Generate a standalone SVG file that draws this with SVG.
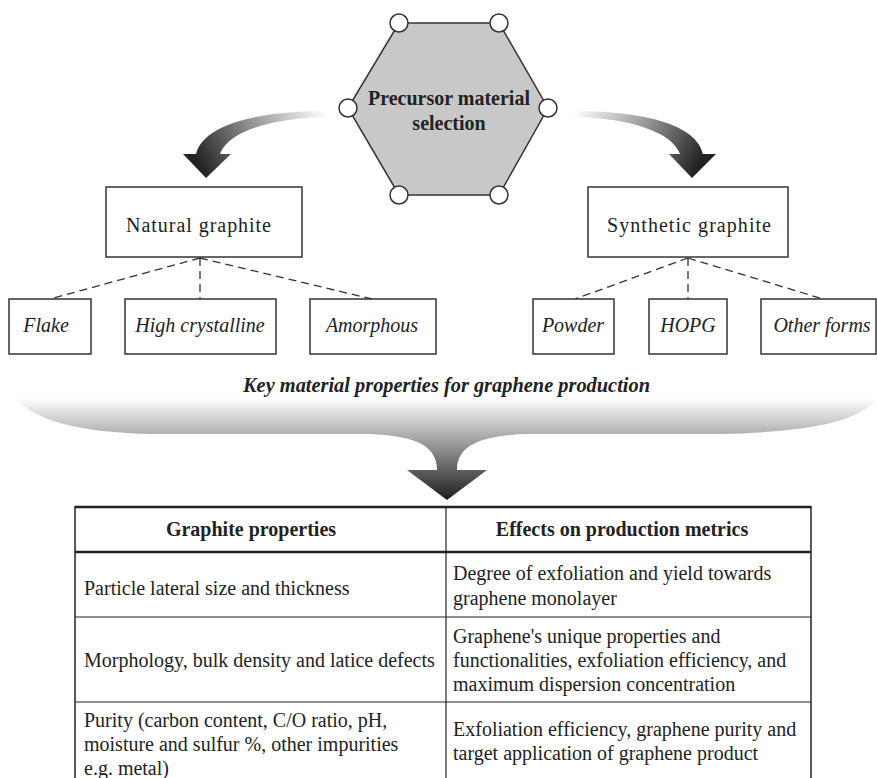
<svg xmlns="http://www.w3.org/2000/svg" width="877" height="778" viewBox="0 0 877 778">
<defs>
<linearGradient id="gL" gradientUnits="userSpaceOnUse" x1="327" y1="114" x2="206" y2="178">
<stop offset="0" stop-color="#ffffff"/><stop offset="0.5" stop-color="#999999"/><stop offset="1" stop-color="#222222"/>
</linearGradient>
<linearGradient id="gR" gradientUnits="userSpaceOnUse" x1="573" y1="114" x2="692" y2="178">
<stop offset="0" stop-color="#ffffff"/><stop offset="0.5" stop-color="#999999"/><stop offset="1" stop-color="#222222"/>
</linearGradient>
<linearGradient id="gB" gradientUnits="userSpaceOnUse" x1="0" y1="398" x2="0" y2="500">
<stop offset="0" stop-color="#ffffff"/><stop offset="0.35" stop-color="#b0b0b0"/><stop offset="1" stop-color="#1e1e1e"/>
</linearGradient>
</defs>
<style>
.box{fill:#fff;stroke:#333;stroke-width:1.5}
.dash{fill:none;stroke:#333;stroke-width:1.3;stroke-dasharray:8 5}
.t{font-family:"Liberation Serif","Times New Roman",serif;font-size:20px;fill:#222}
.it{font-style:italic}
.b{font-weight:bold}
.m{text-anchor:middle}
.port{fill:#fff;stroke:#333;stroke-width:1.5}
.tl{stroke:#222;fill:none}
</style>

<g id="connectors">
<path d="M 327,111 C 270,111 205,120 196,154 L 183,154 L 206,178 L 231,154 L 220,154 C 228,132 270,118 327,117 Z" fill="url(#gL)"/>
<path d="M 573,111 C 630,111 695,120 703,154 L 716,154 L 692,178 L 669,154 L 680,154 C 672,132 630,118 573,117 Z" fill="url(#gR)"/>
<line class="dash" x1="200" y1="258" x2="50" y2="299"/>
<line class="dash" x1="200" y1="258" x2="200" y2="299"/>
<line class="dash" x1="200" y1="258" x2="372" y2="299"/>
<line class="dash" x1="688" y1="258" x2="575" y2="299"/>
<line class="dash" x1="688" y1="258" x2="688" y2="299"/>
<line class="dash" x1="688" y1="258" x2="823" y2="299"/>
<path d="M 15,398 L 877,398 C 862,420 815,432 720,434 L 525,434 C 475,436 457,448 457,470 L 487,470 L 447,500 L 407,470 L 437,470 C 437,448 420,436 370,434 L 150,434 C 75,432 35,420 15,398 Z" fill="url(#gB)"/>
</g>

<g id="precursor">
<polygon points="399,23 499,23 548,108 499,195 399,195 348,108" fill="#c8c8c8" stroke="#333" stroke-width="1.5"/>
<circle class="port" cx="399" cy="23" r="9"/>
<circle class="port" cx="499" cy="23" r="9"/>
<circle class="port" cx="348" cy="108" r="9"/>
<circle class="port" cx="548" cy="108" r="9"/>
<circle class="port" cx="399" cy="195" r="9"/>
<circle class="port" cx="499" cy="195" r="9"/>
<text class="t b m" x="449" y="105">Precursor material</text>
<text class="t b m" x="449" y="130">selection</text>
</g>

<g id="natural">
<rect class="box" x="106" y="187" width="196" height="70"/>
<text class="t" x="126" y="232" textLength="145" lengthAdjust="spacing">Natural graphite</text>
</g>
<g id="synthetic">
<rect class="box" x="588" y="187" width="200" height="70"/>
<text class="t" x="607" y="232" textLength="164" lengthAdjust="spacing">Synthetic graphite</text>
</g>

<g id="flake"><rect class="box" x="9" y="299" width="82" height="55"/><text class="t it m" x="46" y="332">Flake</text></g>
<g id="highcryst"><rect class="box" x="125" y="299" width="151" height="55"/><text class="t it m" x="200" y="332">High crystalline</text></g>
<g id="amorphous"><rect class="box" x="310" y="299" width="126" height="55"/><text class="t it m" x="372" y="332">Amorphous</text></g>
<g id="powder"><rect class="box" x="533" y="299" width="81" height="55"/><text class="t it m" x="573" y="332">Powder</text></g>
<g id="hopg"><rect class="box" x="649" y="299" width="78" height="55"/><text class="t it m" x="688" y="332">HOPG</text></g>
<g id="other"><rect class="box" x="761" y="299" width="115" height="55"/><text class="t it m" x="822" y="332">Other forms</text></g>

<g id="key-label">
<text class="t b it" x="243" y="392" textLength="407" lengthAdjust="spacingAndGlyphs">Key material properties for graphene production</text>
</g>

<g id="table">
<line class="tl" x1="75" y1="507" x2="811" y2="507" stroke-width="2.5"/>
<line class="tl" x1="75" y1="552" x2="811" y2="552" stroke-width="2.5"/>
<line class="tl" x1="75" y1="617" x2="811" y2="617" stroke-width="1.2"/>
<line class="tl" x1="75" y1="702" x2="811" y2="702" stroke-width="1.2"/>
<line class="tl" x1="75" y1="506" x2="75" y2="778" stroke-width="1.5"/>
<line class="tl" x1="446" y1="506" x2="446" y2="778" stroke-width="1.2"/>
<line class="tl" x1="811" y1="506" x2="811" y2="778" stroke-width="1.5"/>
<text class="t b m" x="251" y="536">Graphite properties</text>
<text class="t b m" x="622" y="536">Effects on production metrics</text>
<text class="t" x="84" y="595">Particle lateral size and thickness</text>
<text class="t" x="453" y="580">Degree of exfoliation and yield towards</text>
<text class="t" x="453" y="605">graphene monolayer</text>
<text class="t" x="84" y="667">Morphology, bulk density and latice defects</text>
<text class="t" x="453" y="643">Graphene's unique properties and</text>
<text class="t" x="453" y="667">functionalities, exfoliation efficiency, and</text>
<text class="t" x="453" y="691">maximum dispersion concentration</text>
<text class="t" x="84" y="727">Purity (carbon content, C/O ratio, pH,</text>
<text class="t" x="84" y="751">moisture and sulfur %, other impurities</text>
<text class="t" x="84" y="775">e.g. metal)</text>
<text class="t" x="453" y="736">Exfoliation efficiency, graphene purity and</text>
<text class="t" x="453" y="760">target application of graphene product</text>
</g>
</svg>
